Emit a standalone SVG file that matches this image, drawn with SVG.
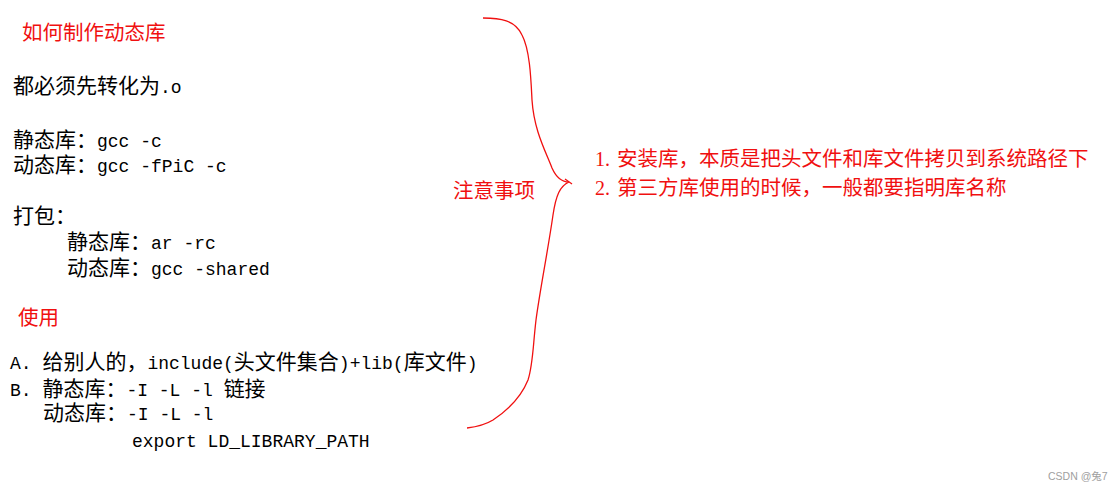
<svg xmlns="http://www.w3.org/2000/svg" width="1117" height="489" viewBox="0 0 1117 489">
<style>
text{font-family:"Noto Sans CJK SC","Liberation Sans",sans-serif;font-size:21px;fill:#000}
.r{fill:#f01010;font-size:20.5px}
.m{font-family:"Liberation Mono","Noto Sans CJK SC",monospace;font-size:18px}
.s{font-family:"Liberation Serif","Noto Sans CJK SC",serif;font-size:20px}
.wm{font-family:"Liberation Sans","Noto Sans CJK SC",sans-serif;font-size:10.5px;fill:#a0a0a0}
.brace{fill:none;stroke:#f01010;stroke-width:1.3}
</style>
<rect width="1117" height="489" fill="#fff"/>
<g id="make-title"><text class="r" x="22" y="40">如何制作动态库</text></g>
<g id="make-o"><text x="13" y="93">都必须先转化为<tspan class="m">.o</tspan></text></g>
<g id="compile">
<text x="13" y="147">静态库：<tspan class="m">gcc -c</tspan></text>
<text x="13" y="172">动态库：<tspan class="m">gcc -fPiC -c</tspan></text>
</g>
<g id="pack">
<text x="13" y="223">打包：</text>
<text x="67" y="249">静态库：<tspan class="m">ar -rc</tspan></text>
<text x="67" y="275">动态库：<tspan class="m">gcc -shared</tspan></text>
</g>
<g id="use-title"><text class="r" x="18" y="325">使用</text></g>
<g id="use">
<text x="10" y="369"><tspan class="m">A. </tspan>给别人的，<tspan class="m">include(</tspan>头文件集合<tspan class="m">)+lib(</tspan>库文件<tspan class="m">)</tspan></text>
<text x="10" y="396"><tspan class="m">B. </tspan>静态库：<tspan class="m">-I -L -l </tspan>链接</text>
<text x="43" y="420">动态库：<tspan class="m">-I -L -l</tspan></text>
<text class="m" x="132" y="447">export LD_LIBRARY_PATH</text>
</g>
<g id="notes-label"><text class="r" x="453" y="198">注意事项</text></g>
<g id="notes">
<text class="r" x="595" y="166"><tspan class="s">1.</tspan><tspan x="617">安装库，本质是把头文件和库文件拷贝到系统路径下</tspan></text>
<text class="r" x="595" y="195"><tspan class="s">2.</tspan><tspan x="617">第三方库使用的时候，一般都要指明库名称</tspan></text>
</g>
<g id="connectors">
<path class="brace" d="M483 18 C500 18,515 20,522 35 C530 50,531 80,532 100 C534 130,545 150,552 168 C556 177,562 182,569 182 C560 186,556 195,553 215 C548 250,540 290,536 320 C533 345,533 365,528 380 C520 400,505 412,493 420 C485 425,475 427,467 428"/>
<path class="brace" d="M565 179 L572 184"/>
</g>
<g id="watermark"><text class="wm" x="1048" y="480">CSDN @兔7</text></g>
</svg>
